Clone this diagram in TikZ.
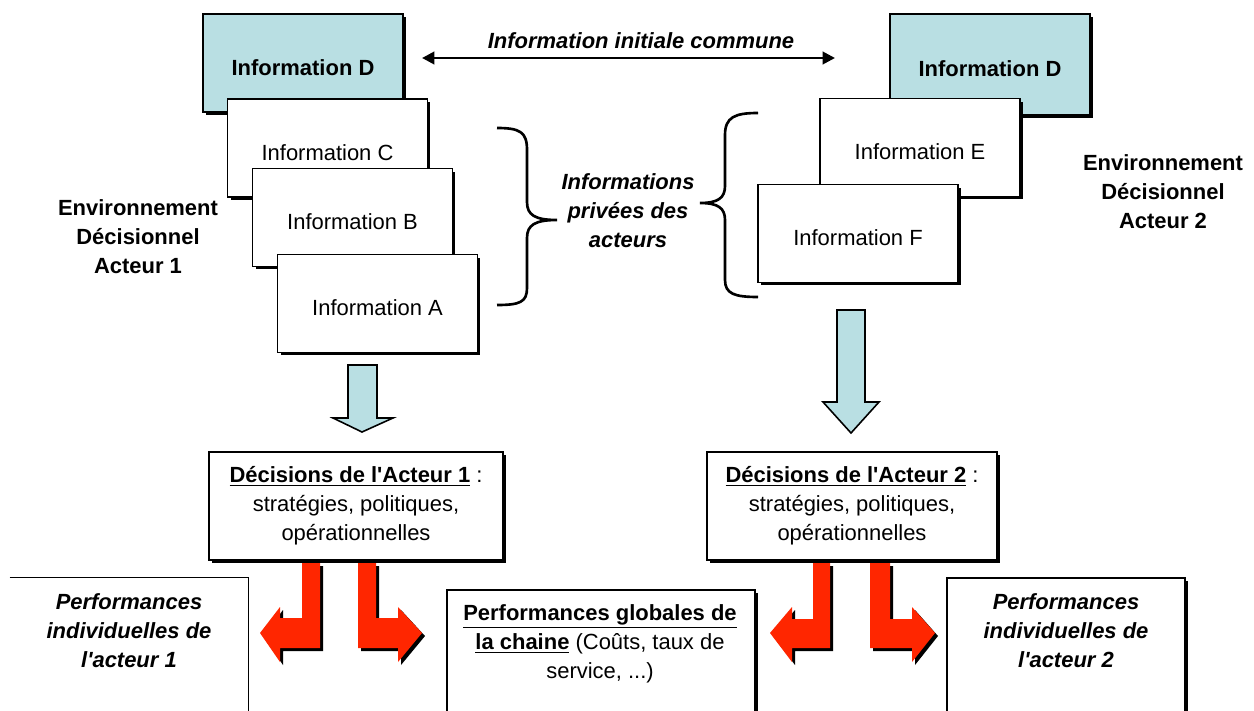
\documentclass[tikz,border=0pt]{standalone}
\usepackage{fontspec}
\setmainfont{Liberation Sans}
\usetikzlibrary{positioning,shadows,arrows.meta}
\definecolor{infoblue}{RGB}{185,223,227}
\definecolor{decisionred}{RGB}{255,38,0}
\newcommand{\txt}{\fontsize{12.5}{16.5}\selectfont}
\tikzset{
	blackshadow/.style = {drop shadow={shadow xshift=0.06cm, shadow yshift=-0.06cm, fill=black, opacity=1}},
	info/.style        = {draw, fill=white, rectangle, line width=0.8pt, minimum width=4cm, minimum height=1.96cm, text height=1.4em, font=\txt, blackshadow},
	infocommon/.style  = {info, fill=infoblue, font=\txt\bfseries},
	decision/.style    = {draw, fill=white, rectangle, line width=0.8pt, align=center, minimum height=2.16cm, font=\txt, blackshadow},
	perfbox/.style     = {draw, fill=white, rectangle, line width=0.8pt, minimum height=2.84cm, blackshadow},
	perfopen/.style    = {rectangle, minimum height=2.84cm},
	perftext/.style    = {align=center, font=\txt\bfseries\itshape, inner sep=0pt},
	envtext/.style     = {align=center, font=\txt\bfseries},
	bluearrow/.style   = {draw, fill=infoblue, line width=0.9pt, line join=miter},
	redarrow/.style    = {fill=decisionred, blackshadow},
	curly/.style       = {draw, line width=1.5pt},
}

\begin{document}
\begin{tikzpicture}[x=0.02cm, y=-0.02cm, >={Triangle[length=7pt,width=7pt]}]
	\useasboundingbox (0,0) rectangle (1254,710);
	\clip (0,0) rectangle (1254,710);

	% Stacks of information, actor 1 and actor 2
	\node[infocommon] (infoDa) at (303,63)     {Information D};
	\node[info]       (infoCa) at (327.5,148)  {Information C};
	\node[info]       (infoBa) at (352.5,217.5){Information B};
	\node[info]       (infoAa) at (377.5,303.5){Information A};

	\node[infocommon, minimum height=2.02cm] (infoDb) at (990,64.5) {Information D};
	\node[info]       (infoEb) at (920,147.5)  {Information E};
	\node[info]       (infoFb) at (858,233.5)  {Information F};

	\node[envtext] (env1) at (138,237) {Environnement\\Décisionnel\\Acteur 1};
	\node[envtext] (env2) at (1163,192) {Environnement\\Décisionnel\\Acteur 2};

	% Shared information
	\coordinate (commonleft)  at (422,58);
	\coordinate (commonright) at (835,58);
	\draw[<->, line width=1.6pt] (commonleft) -- (commonright);
	\node[envtext, font=\txt\bfseries\itshape] (common) at (641,41) {Information initiale commune};

	% Private information
	\draw[curly] (497,128) .. controls (520,128) and (527,132) .. (527,150) -- (527,202)
		.. controls (527,215) and (535,220) .. (557,220)
		.. controls (535,220) and (527,225) .. (527,238) -- (527,288)
		.. controls (527,302) and (520,305) .. (497,305);
	\draw[curly] (758,113) .. controls (735,113) and (725,117) .. (725,135) -- (725,186)
		.. controls (725,198) and (718,203) .. (700,203)
		.. controls (718,203) and (725,208) .. (725,220) -- (725,280)
		.. controls (725,294) and (735,297) .. (758,297);
	\node[envtext, font=\txt\bfseries\itshape] (private) at (628,211) {Informations\\privées des\\acteurs};

	% Towards the decisions
	\draw[bluearrow] (348,365) -- (377,365) -- (377,418) -- (393,418) -- (362,432) -- (333,418) -- (348,418) -- cycle;
	\draw[bluearrow] (837,310) -- (865,310) -- (865,402) -- (879,402) -- (851,433) -- (823,402) -- (837,402) -- cycle;

	\node[decision, minimum width=5.88cm] (dec1) at (356,506)
		{\underline{\textbf{Décisions de l\textquotesingle Acteur 1}} :\\stratégies, politiques,\\opérationnelles};
	\node[decision, minimum width=5.8cm] (dec2) at (852,506)
		{\underline{\textbf{Décisions de l\textquotesingle Acteur 2}} :\\stratégies, politiques,\\opérationnelles};

	% Performances
	\node[perfopen, minimum width=4.76cm] (perf1) at (129,649) {};
	\draw[line width=0.8pt] (perf1.north west) -- (perf1.north east) -- (perf1.south east);
	\node[perfbox, minimum width=6.16cm, minimum height=2.6cm] (perf2) at (601,655) {};
	\node[perfbox, minimum width=4.76cm] (perf3) at (1066,649) {};

	\node[perftext] (perf1txt) at (129,631) {Performances\\individuelles de\\l\textquotesingle acteur 1};
	\node[perftext, font=\txt] (perf2txt) at (600,644)
		{\underline{\textbf{Performances globales de}}\\\underline{\textbf{la chaine}} (Coûts, taux de\\service, ...)};
	\node[perftext] (perf3txt) at (1066,631) {Performances\\individuelles de\\l\textquotesingle acteur 2};

	% Red arrows from the decisions
	\fill[redarrow] (302,563) -- (320,563) -- (320,648) -- (280,648) -- (280,662) -- (260,633) -- (280,607) -- (280,618) -- (302,618) -- cycle;
	\fill[redarrow] (358,563) -- (376,563) -- (376,618) -- (398,618) -- (398,607) -- (422,633) -- (398,662) -- (398,648) -- (358,648) -- cycle;
	\fill[redarrow] (813,563) -- (830,563) -- (830,648) -- (792,648) -- (792,662) -- (770,633) -- (792,607) -- (792,619) -- (813,619) -- cycle;
	\fill[redarrow] (870,563) -- (890,563) -- (890,619) -- (912,619) -- (912,607) -- (935,633) -- (912,662) -- (912,648) -- (870,648) -- cycle;
\end{tikzpicture}
\end{document}
